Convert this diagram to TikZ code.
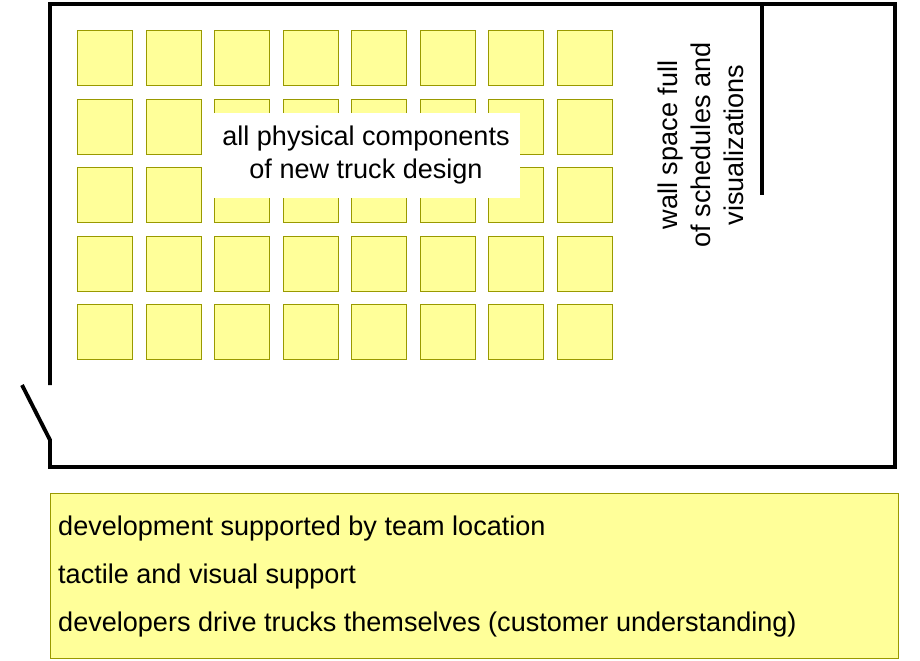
\documentclass[tikz,border=0pt]{standalone}
\usepackage{fontspec}
\setmainfont{Liberation Sans}
\usetikzlibrary{positioning}
\definecolor{padfill}{HTML}{FFFF99}
\definecolor{padline}{HTML}{999900}
\tikzset{
  part/.style={draw=padline, fill=padfill, minimum size=55*0.02cm, inner sep=0pt, anchor=north west},
  wall/.style={line width=2.2pt},
  says/.style={font=\fontsize{15.4}{18.7}\selectfont, align=center}
}
\begin{document}
\begin{tikzpicture}[x=0.02cm, y=-0.02cm]
        \useasboundingbox (0,0) rectangle (920,660);
        % Room walls
        \draw[wall] (50,385) -- (50,4) -- (895,4) -- (895,467) -- (50,467) -- (50,440) -- (22,385);
        \draw[wall] (762,4) -- (762,195);
        % Physical components
        \foreach \c in {0,...,7}
          \foreach \r in {0,...,4}
            \node[part] (p\c\r) at (77+68.5*\c, 30+68.5*\r) {};
        % Labels
        \node[fill=white, says, minimum width=308*0.02cm, minimum height=85*0.02cm] (parts) at (366,155) {all physical components\\of new truck design};
        \node[says, rotate=90] (wallspace) at (701,145) {wall space full\\of schedules and\\visualizations};
        % Notes
        \node[draw=padline, fill=padfill, anchor=north west, minimum width=848*0.02cm, minimum height=165*0.02cm] (notes) at (50,493) {};
        \node[anchor=west, says] (n1) at (52,528) {development supported by team location};
        \node[anchor=west, says] (n2) at (52,576) {tactile and visual support};
        \node[anchor=west, says] (n3) at (52,624) {developers drive trucks themselves (customer understanding)};
\end{tikzpicture}
\end{document}
